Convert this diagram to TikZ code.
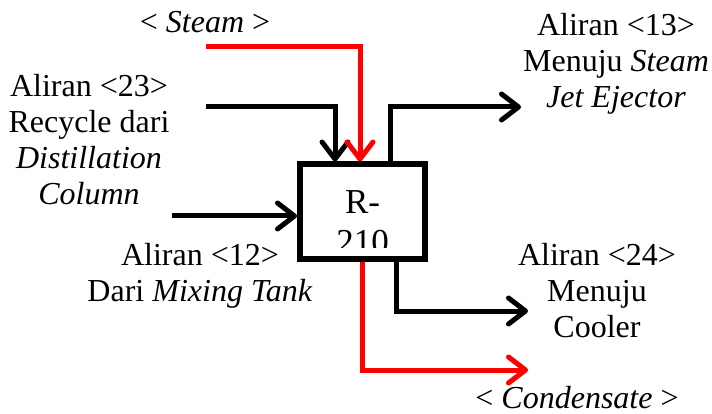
\documentclass[tikz,border=0pt]{standalone}
\usepackage{fontspec}
\setmainfont{Liberation Serif}
\usetikzlibrary{arrows.meta}

\tikzstyle{unit} = [draw, line width=6pt, minimum width=125pt, minimum height=94pt, inner sep=0pt]
\tikzstyle{stream} = [line width=5pt, -{Straight Barb[length=17pt,width=26pt,line cap=round,line join=round]}]
\tikzstyle{utility} = [stream, red]
\tikzstyle{tag} = [align=center, inner sep=0pt, font=\fontsize{32}{36}\selectfont]

\begin{document}
\begin{tikzpicture}[x=1pt, y=-1pt]
\useasboundingbox (0,0) rectangle (712,414);
%reaktor
\node[unit] (reactor) at (362.5,211.5) {};
\begin{scope}
    \clip ([xshift=3pt,yshift=-3pt]reactor.north west) rectangle ([xshift=-3pt,yshift=14pt]reactor.south east);
    \node[tag, anchor=base, font=\fontsize{35}{40}\selectfont] (reactorname) at (362.5,254) {R-\\210};
\end{scope}
%begin ujung aliran
\coordinate (steamin) at (206,47);
\coordinate (recyclein) at (206,107);
\coordinate (feedin) at (172,216);
\coordinate (ventout) at (521,107);
\coordinate (productout) at (528,311);
\coordinate (condensateout) at (528,370);
%end ujung aliran
%begin aliran masuk
\draw[stream] (recyclein) -| ([xshift=-27.5pt]reactor.north);
\draw[utility] (steamin) -| ([xshift=-2.5pt]reactor.north);
\draw[stream] (feedin) -- (feedin -| reactor.west);
%end aliran masuk
%begin aliran keluar
\draw[stream] ([xshift=27.5pt]reactor.north) |- (ventout);
\draw[stream] ([xshift=33.5pt]reactor.south) |- (productout);
\draw[utility] (reactor.south) |- (condensateout);
%end aliran keluar
%begin label
\node[tag, anchor=base] (steamlabel) at (205,33) {< \textit{Steam} >};
\node[tag, anchor=north] (recyclelabel) at (89,74) {Aliran <23>\\Recycle dari\\\textit{Distillation}\\\textit{Column}};
\node[tag, anchor=north] (feedlabel) at (200,243) {Aliran <12>\\Dari \textit{Mixing Tank}};
\node[tag, anchor=north] (ventlabel) at (616,13) {Aliran <13>\\Menuju \textit{Steam}\\\textit{Jet Ejector}};
\node[tag, anchor=north] (productlabel) at (597,243) {Aliran <24>\\Menuju\\Cooler};
\node[tag, anchor=base] (condensatelabel) at (577,408) {< \textit{Condensate} >};
%end label
\end{tikzpicture}
\end{document}
